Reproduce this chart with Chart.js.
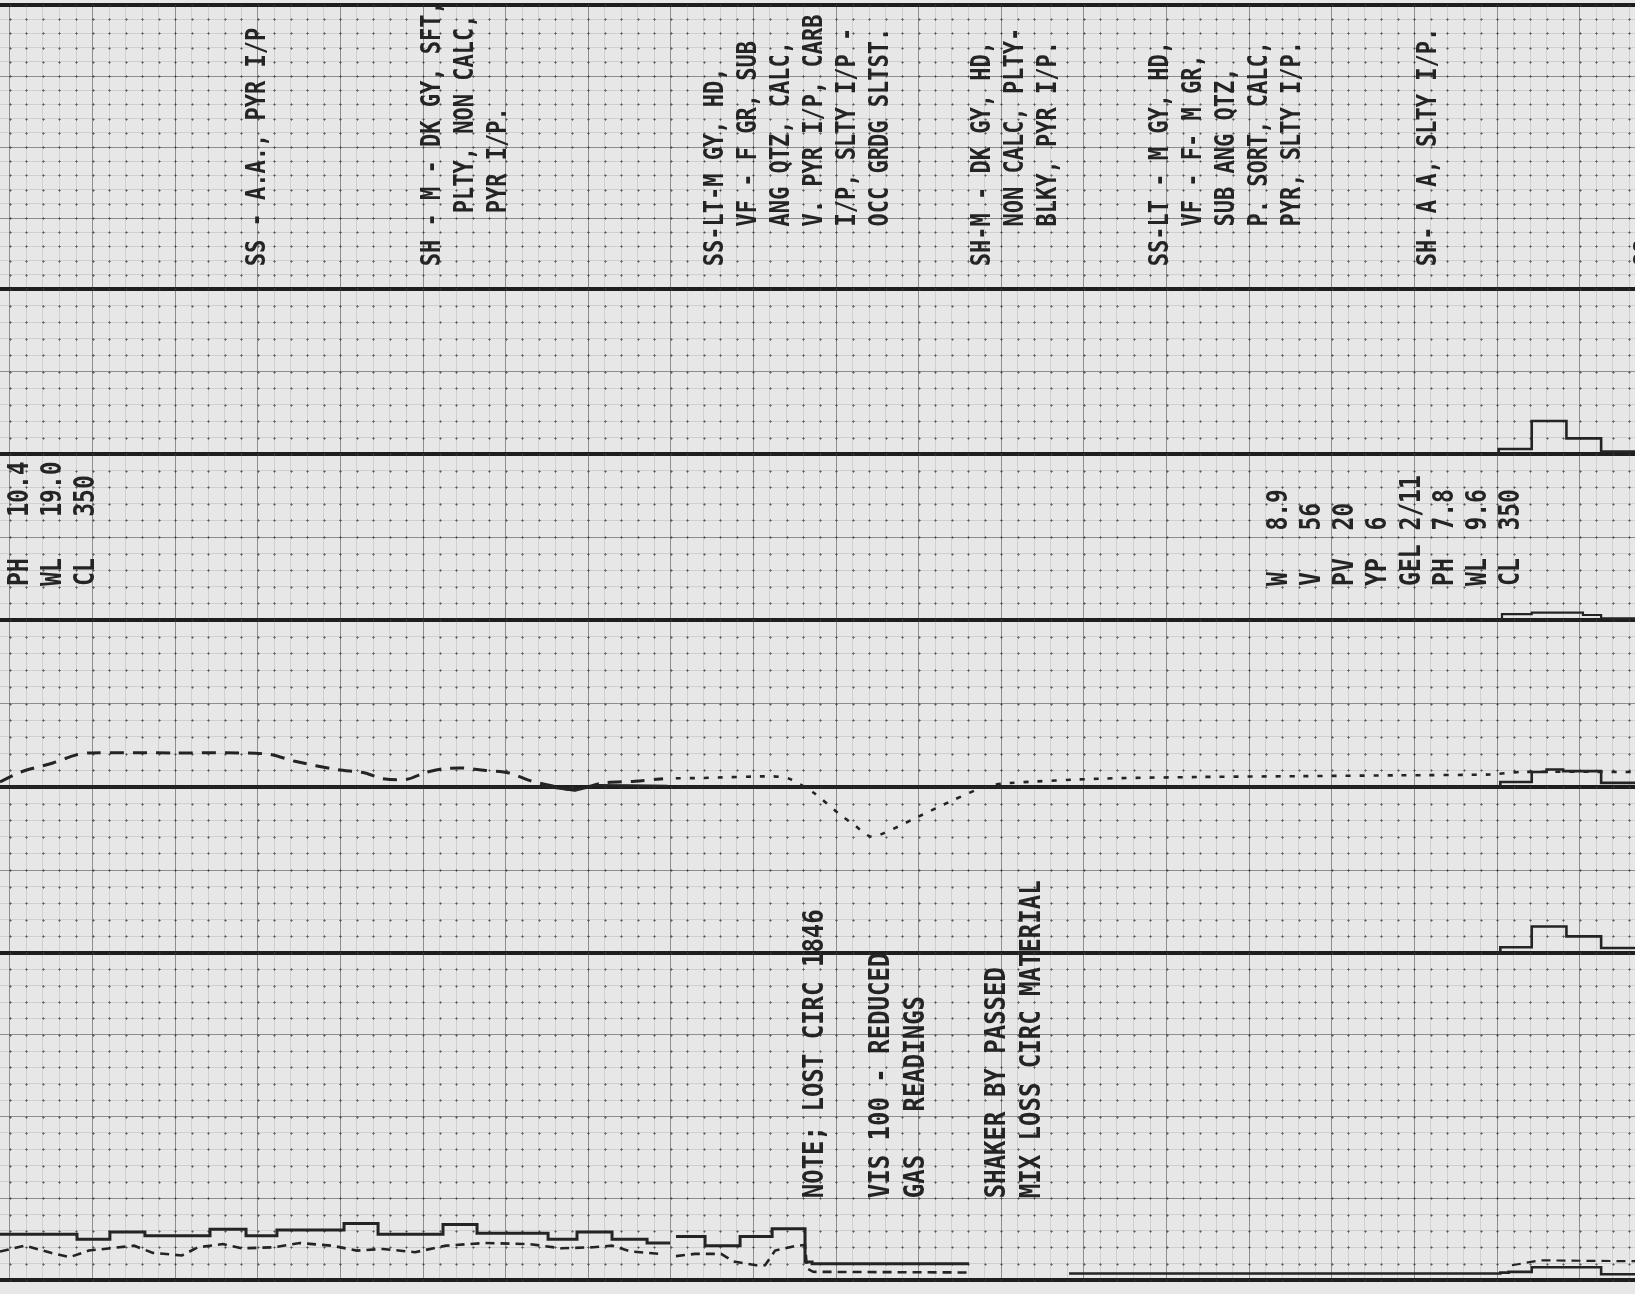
<!DOCTYPE html>
<html>
<head>
<meta charset="utf-8">
<script src="https://cdn.jsdelivr.net/npm/chart.js@4.4.1/dist/chart.umd.min.js"></script>
<style>
    html, body { margin: 0; padding: 0; background: #e7e7e7; }
    #wrap { width: 1635px; height: 1294px; }
</style>
</head>
<body>
<div id="wrap"><canvas id="mudlog" width="1635" height="1294"></canvas></div>
<script>
// depth runs left to right, counted in small chart squares from the first heavy grid line
const depthMin = -0.6;
const depthMax = 98.35;

// each track counts small squares upward from its own base line
const trackDivisions = { lith: 20, mudA: 10, mudB: 10, gasC: 10, gasD: 10, gasE: 20 };

// track A / B / D : short stepped traces at the right edge (value holds until the next depth)
const traceA = [ [89.9, 0], [90.1, 0.3], [92.1, 2.0], [94.2, 0.95], [96.3, 0.15], [98.35, 0.15] ];
const traceB = [ [89.9, 0], [90.3, 0.35], [92.1, 0.45], [95.2, 0.3], [96.3, 0.1], [98.35, 0.1] ];
const traceD = [ [89.9, 0], [90.2, 0.35], [92.1, 1.6], [94.2, 1.0], [96.3, 0.3], [98.35, 0.3] ];

// track C : base trace and the dashed curve
const baseCLeft  = [ [-0.6, 0], [32.6, 0], [34.2, -0.2], [35.5, 0.1], [37.5, 0.08], [39.8, 0.05] ];
const baseCRight = [ [40.3, 0], [90.2, 0.3], [92.1, 0.9], [93.0, 1.05], [94.0, 0.95], [96.3, 0.25], [98.35, 0.2] ];
const curveCLeft = [
    [-0.6, 0.3], [0.67, 0.9], [2.6, 1.44], [4.06, 1.94], [4.9, 2.04], [9.99, 2.04], [15.56, 1.98],
    [17.25, 1.54], [19.79, 1.04], [21.49, 0.84], [22.52, 0.5], [24.03, 0.46], [25.06, 0.84],
    [26.15, 1.08], [27.42, 1.14], [28.69, 1.0], [30.21, 0.84], [31.48, 0.38], [32.93, 0.04],
    [34.2, -0.16], [35.9, 0.24], [37.83, 0.34], [39.53, 0.5]
];
const curveCRight = [
    [40.3, 0.52], [41.89, 0.54], [46.13, 0.64], [47.15, 0.5], [48.67, -0.36], [50.12, -1.56],
    [51.21, -2.36], [52.06, -2.96], [52.9, -2.76], [54.6, -1.96], [57.14, -0.76], [59.08, 0.04],
    [60.53, 0.24], [65.98, 0.5], [72.0, 0.6], [78.1, 0.65], [84.1, 0.7], [89.6, 0.75],
    [91.4, 0.9], [98.35, 0.9]
];

// track E : stepped trace and the dashed trace below it
const stepsELeft  = [ [-0.6, 2.8], [4.06, 2.5], [6.05, 2.94], [8.17, 2.7], [12.11, 3.1], [14.29, 2.7],
    [16.16, 3.06], [20.22, 3.46], [22.28, 2.8], [26.21, 3.4], [28.27, 2.86], [32.57, 2.5],
    [34.32, 2.94], [36.44, 2.5], [38.56, 2.26], [39.95, 2.26] ];
const stepsEMid   = [ [40.31, 2.66], [42.07, 2.1], [44.19, 2.66], [46.13, 3.14], [48.12, 1.1], [48.55, 1.0], [58.05, 1.0] ];
const stepsERight = [ [64.1, 0.4], [90.2, 0.45], [90.7, 0.5], [92.1, 0.78], [96.3, 0.35], [98.35, 0.35] ];
const dashELeft = [
    [-0.6, 1.74], [0.91, 2.1], [2.48, 1.66], [3.63, 1.4], [4.78, 1.8], [7.51, 2.1], [8.66, 1.66],
    [10.41, 1.5], [11.38, 2.0], [12.89, 2.2], [14.04, 1.94], [15.98, 2.0], [17.55, 2.26],
    [19.49, 2.1], [21.0, 1.8], [22.58, 1.9], [24.52, 1.7], [26.39, 2.1], [28.75, 2.26],
    [31.42, 2.2], [33.35, 1.94], [35.29, 2.0], [36.44, 2.1], [37.59, 1.74], [39.35, 1.6]
];
const dashEMid = [
    [40.31, 1.46], [41.46, 1.6], [43.04, 1.6], [43.77, 1.14], [45.16, 0.9], [45.7, 0.9],
    [46.31, 1.8], [47.64, 2.1], [48.12, 2.14], [48.24, 0.7], [48.61, 0.5], [58.05, 0.46]
];
const dashERight = [ [90.9, 0.9], [92.6, 1.2], [98.35, 1.15] ];

// lettering
const lithology = [
    { depth: 14.83, lines: [ 'SS - A.A., PYR I/P' ] },
    { depth: 25.42, lines: [ 'SH - M - DK GY, SFT,', '    PLTY, NON CALC,', '    PYR I/P.' ] },
    { depth: 42.55, lines: [ 'SS-LT-M GY, HD,', '   VF - F GR, SUB', '   ANG QTZ, CALC,', '   V. PYR I/P, CARB', '   I/P, SLTY I/P -', '   OCC GRDG SLTST.' ] },
    { depth: 58.72, lines: [ 'SH-M - DK GY, HD,', '   NON CALC, PLTY-', '   BLKY, PYR I/P.' ] },
    { depth: 69.49, lines: [ 'SS-LT - M GY, HD,', '   VF - F- M GR,', '   SUB ANG QTZ,', '   P. SORT, CALC,', '   PYR, SLTY I/P.' ] },
    { depth: 85.71, lines: [ 'SH- A A, SLTY I/P.' ] },
    { depth: 98.85, lines: [ 'SS-' ] }
];
const mudCheckLeft  = [ 'PH   10.4', 'WL   19.0', 'CL   350' ];
const mudCheckRight = [ 'W   8.9', 'V   56', 'PV  20', 'YP  6', 'GEL 2/11', 'PH  7.8', 'WL  9.6', 'CL  350' ];
const remarks = [
    { depth: 48.6,  text: 'NOTE; LOST CIRC 1846' },
    { depth: 52.54, text: 'VIS 100 - REDUCED' },
    { depth: 54.66, text: 'GAS   READINGS' },
    { depth: 59.6,  text: 'SHAKER BY PASSED' },
    { depth: 61.7,  text: 'MIX LOSS CIRC MATERIAL' }
];

var INK = '#242424';
var MINOR = 'rgba(120,120,120,0.2)';
var MAJOR = 'rgba(70,70,70,0.55)';

function pts( pairs ) {
    return pairs.map( function ( p ) { return { x: p[0], y: p[1] }; } );
}

function intRange( a, b ) {
    var out = [];
    for ( var v = Math.ceil( a ); v <= Math.floor( b ); v++ ) out.push( { value: v } );
    return out;
}

function trackScale( key, weight, order ) {
    var n = trackDivisions[ key ];
    return {
        type: 'linear',
        position: 'left',
        stack: 'log',
        stackWeight: weight,
        weight: order,
        min: 0,
        max: n,
        afterBuildTicks: function ( scale ) { scale.ticks = intRange( 0, n ); },
        ticks: { display: false },
        border: { display: false },
        grid: {
            drawTicks: false,
            color: function ( c ) {
                var v = c.tick.value;
                if ( v === 0 || v === n ) return '#1e1e1e';
                return v % 5 === 0 ? MAJOR : MINOR;
            },
            lineWidth: function ( c ) {
                var v = c.tick.value;
                return ( v === 0 || v === n ) ? 4 : 1;
            }
        }
    };
}

function line( pairs, axis, extra ) {
    var ds = {
        data: pts( pairs ),
        yAxisID: axis,
        borderColor: INK,
        borderWidth: 2.6,
        pointRadius: 0,
        fill: false,
        tension: 0,
        clip: false
    };
    for ( var k in extra ) ds[ k ] = extra[ k ];
    return ds;
}

const paper = {
    id: 'paper',
    beforeDraw: function ( chart ) {
        var ctx = chart.ctx;
        ctx.save();
        ctx.fillStyle = '#e7e7e7';
        ctx.fillRect( 0, 0, chart.width, chart.height );
        ctx.restore();
    },
    beforeDatasetsDraw: function ( chart ) {
        // the little crosses printed on every grid intersection
        var ctx = chart.ctx;
        var xs = chart.scales.x;
        ctx.save();
        ctx.fillStyle = 'rgba(50,50,50,0.5)';
        Object.keys( trackDivisions ).forEach( function ( key ) {
            var ys = chart.scales[ key ];
            ys.ticks.forEach( function ( yt ) {
                var py = Math.round( ys.getPixelForValue( yt.value ) );
                xs.ticks.forEach( function ( xt ) {
                    var px = Math.round( xs.getPixelForValue( xt.value ) );
                    ctx.fillRect( px - 1, py, 3, 1 );
                    ctx.fillRect( px, py - 1, 1, 3 );
                } );
            } );
        } );
        ctx.restore();
    }
};

const lettering = {
    id: 'lettering',
    afterDatasetsDraw: function ( chart ) {
        var ctx = chart.ctx;
        var xs = chart.scales.x;

        function write( text, depth, axis, level, size ) {
            var px = xs.getPixelForValue( depth );
            var py = chart.scales[ axis ].getPixelForValue( level );
            ctx.save();
            ctx.translate( px, py );
            ctx.rotate( -Math.PI / 2 );
            ctx.scale( 1, 1.2 );
            ctx.font = 'bold ' + size + 'px "DejaVu Sans Mono", monospace';
            ctx.fillStyle = INK;
            ctx.textAlign = 'left';
            ctx.textBaseline = 'alphabetic';
            ctx.fillText( text, 0, size * 0.365 );
            ctx.restore();
        }

        lithology.forEach( function ( block ) {
            block.lines.forEach( function ( t, i ) {
                write( t, block.depth + i * 2, 'lith', 1.6, 22 );
            } );
        } );
        mudCheckLeft.forEach( function ( t, i ) {
            write( t, 0.48 + i * 2, 'mudB', 2.05, 23 );
        } );
        mudCheckRight.forEach( function ( t, i ) {
            write( t, 76.7 + i * 2, 'mudB', 2.05, 23 );
        } );
        remarks.forEach( function ( r ) {
            write( r.text, r.depth, 'gasE', 5.0, 24 );
        } );
    }
};

const dashLong = [ 14, 9 ];
const dashShort = [ 9, 6 ];
const dotted = [ 5, 9 ];

new Chart( document.getElementById( 'mudlog' ).getContext( '2d' ), {
    type: 'line',
    data: {
        datasets: [
            line( traceA, 'mudA', { stepped: 'before' } ),
            line( traceB, 'mudB', { stepped: 'before', borderWidth: 2.2 } ),
            line( baseCLeft, 'gasC', {} ),
            line( baseCRight, 'gasC', { stepped: 'before' } ),
            line( curveCLeft, 'gasC', { borderDash: dashLong, borderWidth: 3, tension: 0.3 } ),
            line( curveCRight, 'gasC', { borderDash: dotted, borderWidth: 2.6, tension: 0.25 } ),
            line( traceD, 'gasD', { stepped: 'before' } ),
            line( stepsELeft, 'gasE', { stepped: 'before', borderWidth: 3 } ),
            line( stepsEMid, 'gasE', { stepped: 'before', borderWidth: 3 } ),
            line( stepsERight, 'gasE', { stepped: 'before' } ),
            line( dashELeft, 'gasE', { borderDash: dashShort, borderWidth: 2.6 } ),
            line( dashEMid, 'gasE', { borderDash: dashShort, borderWidth: 2.6 } ),
            line( dashERight, 'gasE', { borderDash: dashShort, borderWidth: 2.2 } )
        ]
    },
    options: {
        responsive: false,
        animation: false,
        devicePixelRatio: 1,
        layout: { padding: { top: 5, bottom: 14, left: 0, right: 0 } },
        plugins: {
            legend: { display: false },
            tooltip: { enabled: false }
        },
        scales: {
            x: {
                type: 'linear',
                position: 'bottom',
                min: depthMin,
                max: depthMax,
                afterBuildTicks: function ( scale ) { scale.ticks = intRange( depthMin, depthMax ); },
                ticks: { display: false },
                border: { display: false },
                grid: {
                    drawTicks: false,
                    color: function ( c ) {
                        return c.tick.value % 5 === 0 ? MAJOR : MINOR;
                    },
                    lineWidth: 1
                }
            },
            lith: trackScale( 'lith', 284, 6 ),
            mudA: trackScale( 'mudA', 165, 5 ),
            mudB: trackScale( 'mudB', 166, 4 ),
            gasC: trackScale( 'gasC', 167, 3 ),
            gasD: trackScale( 'gasD', 166, 2 ),
            gasE: trackScale( 'gasE', 327, 1 )
        }
    },
    plugins: [ paper, lettering ]
} );
</script>
</body>
</html>
